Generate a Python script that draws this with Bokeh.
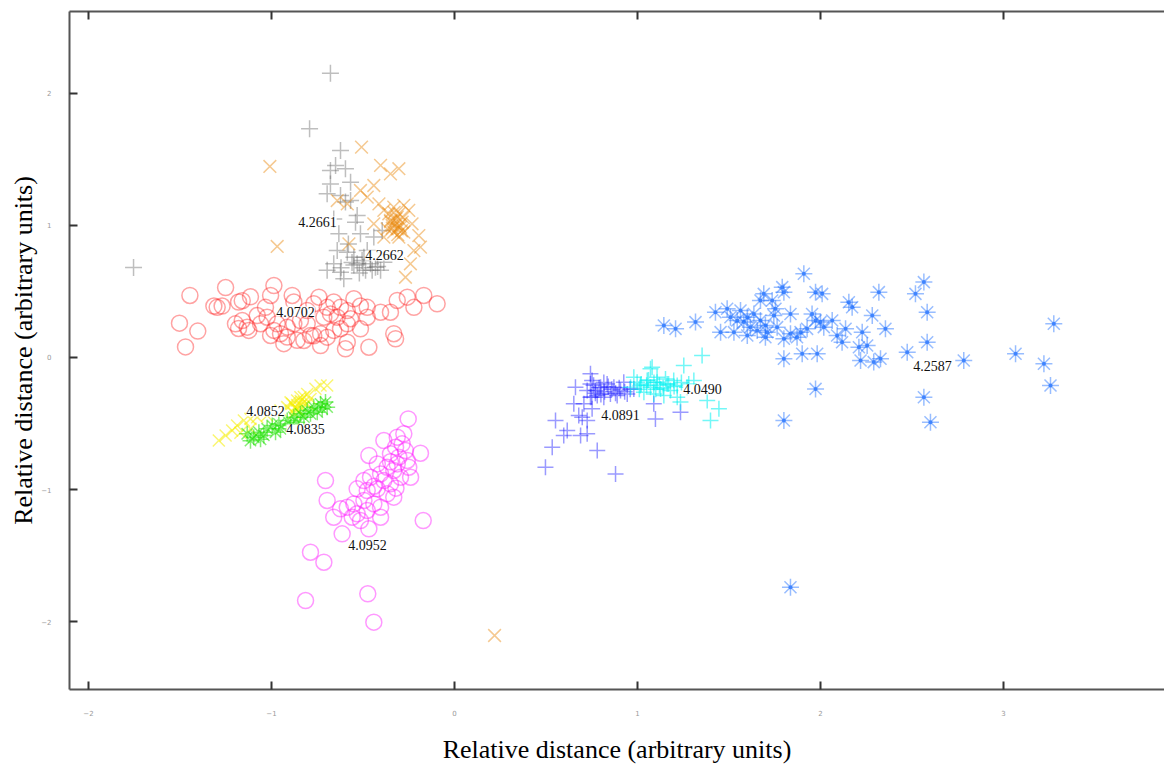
from bokeh.plotting import figure
from bokeh.models import (ColumnDataSource, LabelSet, LinearAxis, Range1d, FixedTicker,
                          CustomJSTickFormatter)
from bokeh.embed import file_html
from bokeh.resources import INLINE

# ---------------- data ----------------
x_ticks = [-2, -1, 0, 1, 2, 3]
y_ticks = [-2, -1, 0, 1, 2]
x_title = "Relative distance (arbitrary units)"
y_title = "Relative distance (arbitrary units)"

red_x = [-1.446, -1.503, -1.403, -1.47, -1.251, -1.297, -1.27, -1.16, -1.115, -1.18, -1.197, -1.18, -1.133,
         -1.124, -1.005, -0.987, -0.887, -0.878, -1.024, -0.987, -0.951, -0.914, -0.933, -0.86, -0.769, -0.805,
         -0.741, -0.696, -0.66, -0.641, -0.586, -0.568, -0.55, -0.514, -0.477, -0.514, -0.586, -0.596, -0.468,
         -0.404, -0.35, -0.332, -0.322, -0.313, -0.258, -0.222, -0.168, -0.095, -0.787, -0.823, -0.732, -0.696,
         -0.66, -0.623, -0.714, -0.678, -0.842, -0.878, -0.914, -0.969, -1.005, -1.06, -1.033, -1.078, -1.16,
         -1.315, -0.769, -0.805, -0.586, -0.623, -0.732, -0.477]
red_y = [0.47, 0.26, 0.20, 0.08, 0.53, 0.38, 0.39, 0.43, 0.46, 0.42, 0.255, 0.22, 0.23,
         0.205, 0.47, 0.545, 0.47, 0.42, 0.305, 0.205, 0.18, 0.155, 0.105, 0.13, 0.165, 0.255,
         0.457, 0.38, 0.42, 0.305, 0.255, 0.293, 0.445, 0.39, 0.38, 0.217, 0.116, 0.066, 0.078,
         0.343, 0.343, 0.18, 0.142, 0.432, 0.457, 0.38, 0.47, 0.407, 0.167, 0.129, 0.18, 0.154,
         0.205, 0.217, 0.305, 0.33, 0.28, 0.255, 0.23, 0.255, 0.167, 0.255, 0.38, 0.318, 0.28,
         0.39, 0.407, 0.356, 0.356, 0.38, 0.09, 0.305]

grey_x = [-0.678, -0.792, -0.623, -0.65, -0.596, -0.678, -0.568, -0.696, -0.623, -0.596, -0.532, -0.541,
          -0.514, -0.632, -0.641, -0.586, -0.55, -0.495, -0.459, -0.532, -0.696, -0.623, -0.66, -0.404,
          -0.386, -0.432, -0.477, -0.441, -0.486, -0.395, -0.678, -1.754, -0.605, -0.66, -0.568,
          -0.55, -0.505, -0.46, -0.58, -0.42, -0.50, -0.45, -0.56, -0.62, -0.52]
grey_y = [2.154, 1.733, 1.568, 1.455, 1.43, 1.417, 1.328, 1.24, 1.227, 1.177, 1.076, 1.025,
          0.937, 0.937, 0.81, 0.798, 0.76, 0.76, 0.71, 0.71, 0.66, 0.646, 0.71, 0.66,
          0.722, 0.684, 0.81, 0.912, 0.66, 0.962, 1.315, 0.682, 0.596, 1.05, 1.19,
          0.70, 0.735, 0.745, 0.86, 0.69, 0.68, 0.66, 0.72, 0.68, 0.64]

orange_x = [-0.508, -1.009, -0.969, -0.404, -0.304, -0.35, -0.441, -0.514, -0.586, -0.641, -0.477, -0.413,
            -0.386, -0.332, -0.277, -0.25, -0.313, -0.35, -0.322, -0.295, -0.368, -0.332, -0.277, -0.304,
            -0.232, -0.195, -0.186, -0.222, -0.241, -0.268, -0.577, -0.386, -0.359, -0.304, -0.341, -0.313,
            -0.286, -0.441, 0.219, -0.32, -0.30, -0.34, -0.31, -0.28, -0.33, -0.29, -0.35]
orange_y = [1.593, 1.447, 0.841, 1.455, 1.43, 1.391, 1.303, 1.265, 1.164, 1.189, 1.215, 1.164,
            1.114, 1.139, 1.152, 1.114, 1.063, 1.038, 1.013, 0.987, 0.975, 0.949, 0.949, 0.912,
            1.013, 0.924, 0.836, 0.81, 0.71, 0.608, 0.861, 0.912, 1.089, 1.089, 1.0, 0.975,
            1.025, 1.013, -2.106, 1.05, 1.0, 0.98, 0.93, 1.06, 1.1, 0.96, 1.03]

yellow_x = [-1.288, -1.251, -1.215, -1.188, -1.151, -1.115, -1.078, -1.024, -0.951, -0.914, -0.887, -0.86,
            -0.842, -0.805, -0.76, -0.732, -0.696, -0.869, -0.842, -0.823, -0.851, -0.878, -0.805, -0.896,
            -0.787, -1.115, -1.17, -0.823, -0.86, -0.84, -0.87]
yellow_y = [-0.629, -0.591, -0.553, -0.515, -0.477, -0.465, -0.452, -0.439, -0.402, -0.376, -0.351, -0.326,
            -0.301, -0.276, -0.237, -0.212, -0.212, -0.389, -0.364, -0.338, -0.40, -0.42, -0.35, -0.34,
            -0.314, -0.54, -0.57, -0.30, -0.36, -0.33, -0.38]

green_x = [-1.133, -1.097, -1.069, -1.024, -0.996, -0.96, -0.914, -0.878, -0.842, -0.805, -0.769, -0.732,
           -0.705, -0.696, -1.042, -1.06, -1.115, -0.951, -0.896, -0.823, -0.787, -0.75, -0.723, -0.978, -0.86]
green_y = [-0.578, -0.604, -0.566, -0.54, -0.515, -0.503, -0.477, -0.452, -0.427, -0.402, -0.376, -0.351,
           -0.338, -0.376, -0.59, -0.62, -0.63, -0.54, -0.515, -0.452, -0.427, -0.414, -0.389, -0.566, -0.49]

magenta_x = [-0.253, -0.186, -0.705, -0.696, -0.66, -0.614, -0.787, -0.714, -0.814, -0.474, -0.441, -0.171,
             -0.24, -0.386, -0.313, -0.277, -0.322, -0.35, -0.304, -0.258, -0.468, -0.422, -0.368, -0.332,
             -0.404, -0.459, -0.495, -0.386, -0.35, -0.532, -0.477, -0.422, -0.368, -0.332, -0.495, -0.55,
             -0.441, -0.404, -0.586, -0.532, -0.477, -0.404, -0.468, -0.623, -0.559, -0.514, -0.295, -0.313,
             -0.286, -0.268, -0.25, -0.35, -0.44, -0.32]
magenta_y = [-0.465, -0.725, -0.932, -1.083, -1.21, -1.336, -1.475, -1.551, -1.841, -1.79, -2.005, -1.235,
             -0.907, -0.629, -0.604, -0.578, -0.679, -0.73, -0.755, -0.78, -0.742, -0.806, -0.831, -0.856,
             -0.882, -0.907, -0.932, -0.932, -0.957, -0.995, -1.008, -0.995, -1.033, -1.058, -1.083, -1.109,
             -1.109, -1.134, -1.134, -1.184, -1.159, -1.21, -1.298, -1.146, -1.21, -1.235, -0.907, -0.806,
             -0.654, -0.705, -0.831, -0.79, -0.975, -0.99]

blue_x = [0.497, 0.534, 0.552, 0.597, 0.616, 0.689, 0.725, 0.698, 0.679, 0.652, 0.661, 0.743, 0.743, 0.77,
          0.798, 0.834, 0.871, 0.907, 0.78, 0.816, 0.852, 0.889, 0.944, 0.743, 0.725, 0.78, 0.88, 1.089,
          1.098, 1.235, 0.752, 0.816, 0.752, 0.98, 0.925, 0.707, 0.725,
          0.76, 0.79, 0.82, 0.86, 0.88, 0.80, 0.77, 0.84, 0.90, 0.75, 0.93, 0.96]
blue_y = [-0.831, -0.679, -0.477, -0.591, -0.553, -0.591, -0.578, -0.452, -0.439, -0.351, -0.225, -0.124,
          -0.2, -0.25, -0.225, -0.2, -0.225, -0.25, -0.288, -0.301, -0.276, -0.288, -0.276, -0.301, -0.25,
          -0.705, -0.882, -0.351, -0.465, -0.414, -0.174, -0.19, -0.389, -0.238, -0.187, -0.351, -0.477,
          -0.21, -0.23, -0.26, -0.24, -0.27, -0.28, -0.27, -0.22, -0.23, -0.30, -0.26, -0.24]

cyan_x = [1.353, 1.253, 1.08, 0.98, 1.053, 1.107, 1.162, 1.198, 1.126, 1.18, 1.071, 1.016, 0.962, 1.035,
          1.089, 1.144, 1.217, 1.308, 1.381, 1.445, 1.399, 1.107, 0.998, 1.217, 1.271, 1.235, 1.153, 1.071,
          1.02, 1.05, 1.09, 1.12, 1.14, 1.17, 1.20, 1.24, 1.10, 1.06, 1.28, 1.01]
cyan_y = [0.015, -0.06, -0.073, -0.149, -0.174, -0.187, -0.2, -0.174, -0.238, -0.25, -0.225, -0.212, -0.225,
          -0.263, -0.276, -0.288, -0.301, -0.174, -0.326, -0.389, -0.477, -0.149, -0.187, -0.212, -0.225,
          -0.338, -0.162, -0.086,
          -0.20, -0.21, -0.19, -0.21, -0.23, -0.20, -0.22, -0.19, -0.24, -0.17, -0.20, -0.24]

azure_x = [1.909, 1.791, 1.8, 1.973, 2.009, 2.319, 2.565, 2.519, 2.583, 2.155, 2.173, 2.283, 2.355, 2.228,
           2.137, 2.091, 2.118, 2.21, 2.255, 2.219, 2.291, 2.328, 2.474, 2.583, 2.783, 3.066, 3.221, 3.257,
           3.275, 2.565, 2.601, 1.973, 1.8, 1.836, 1.8, 1.9, 1.982, 1.144, 1.208, 1.317, 1.426, 1.49, 1.454,
           1.545, 1.581, 1.6, 1.563, 1.636, 1.672, 1.699, 1.709, 1.672, 1.736, 1.754, 1.745, 1.763, 1.836,
           1.8, 1.836, 1.891, 1.927, 1.872, 1.954, 1.973, 2.0, 2.018, 2.064, 1.6, 1.699, 1.527, 1.617, 1.654,
           1.69, 1.508]
azure_y = [0.634, 0.533, 0.495, 0.495, 0.482, 0.495, 0.571, 0.482, 0.343, 0.419, 0.381, 0.318, 0.217, 0.192,
           0.217, 0.167, 0.116, 0.078, 0.091, -0.023, -0.035, -0.01, 0.04, 0.116, -0.023, 0.028, -0.048,
           -0.212, 0.255, -0.301, -0.49, -0.238, -0.477, -1.74, -0.01, 0.028, 0.028, 0.242, 0.217, 0.268,
           0.343, 0.369, 0.192, 0.28, 0.268, 0.305, 0.356, 0.33, 0.28, 0.242, 0.192, 0.432, 0.432, 0.369,
           0.318, 0.23, 0.33, 0.142, 0.179, 0.192, 0.217, 0.154, 0.33, 0.28, 0.268, 0.23, 0.28, 0.167, 0.154,
           0.192, 0.23, 0.205, 0.482, 0.305]

cluster_labels = ["4.2661", "4.2662", "4.0702", "4.0852", "4.0835", "4.0952", "4.0891", "4.0490", "4.2587"]
label_x = [-0.749, -0.383, -0.869, -1.033, -0.814, -0.475, 0.907, 1.355, 2.612]
label_y = [1.03, 0.773, 0.348, -0.409, -0.545, -1.417, -0.432, -0.242, -0.061]

# ---------------- figure ----------------
p = figure(width=1164, height=767, output_backend="svg", toolbar_location=None,
           x_range=Range1d(-2.104, 3.880), y_range=Range1d(-2.515, 2.621),
           min_border_left=69, min_border_right=0, min_border_top=11, min_border_bottom=78,
           background_fill_color="white", border_fill_color="white")
p.outline_line_color = None
p.grid.visible = False

def style_axis(ax, ticks):
    ax.ticker = FixedTicker(ticks=ticks)
    ax.axis_line_color = "#555555"
    ax.axis_line_width = 2
    ax.major_tick_line_color = "#333333"
    ax.major_tick_line_width = 2
    ax.major_tick_in = 8
    ax.major_tick_out = 0
    ax.minor_tick_line_color = None
    ax.major_label_text_color = "#9a9a9a"
    ax.major_label_text_font = "DejaVu Sans"
    ax.major_label_text_font_size = "7px"

style_axis(p.xaxis[0], x_ticks)
style_axis(p.yaxis[0], y_ticks)
p.xaxis[0].major_label_standoff = 20
p.yaxis[0].major_label_standoff = 18

for ax, title in ((p.xaxis[0], x_title), (p.yaxis[0], y_title)):
    ax.axis_label = title
    ax.axis_label_text_font = "Liberation Serif"
    ax.axis_label_text_font_style = "normal"
    ax.axis_label_text_font_size = "26px"
    ax.axis_label_text_color = "#000000"
p.xaxis[0].axis_label_standoff = 16
p.yaxis[0].axis_label_standoff = 0

# top frame edge with inward ticks, no labels
top_axis = LinearAxis(formatter=CustomJSTickFormatter(code="return ''"))
style_axis(top_axis, x_ticks)
top_axis.major_label_standoff = 0
p.add_layout(top_axis, "above")

def add_series(xs, ys, marker, color, alpha, size, width=1.5):
    src = ColumnDataSource(dict(x=xs, y=ys))
    p.scatter("x", "y", source=src, marker=marker, size=size, fill_color=None,
              line_color=color, line_alpha=alpha, line_width=width)
    return src

add_series(red_x, red_y, "circle", "#ff1a1a", 0.4, 16)
add_series(grey_x, grey_y, "cross", "#6e6e6e", 0.45, 17)
add_series(orange_x, orange_y, "x", "#e8870c", 0.45, 18)
add_series(yellow_x, yellow_y, "x", "#f5ee00", 0.55, 17)
add_series(green_x, green_y, "asterisk", "#1ee000", 0.55, 16)
add_series(magenta_x, magenta_y, "circle", "#ff1aff", 0.45, 16)
add_series(blue_x, blue_y, "cross", "#2020ff", 0.45, 16)
add_series(cyan_x, cyan_y, "cross", "#00f0f0", 0.55, 16)
az_src = add_series(azure_x, azure_y, "asterisk", "#1a6cff", 0.45, 17)
# the bright centre of each asterisk
p.scatter("x", "y", source=az_src, marker="circle", size=4, fill_color="#1a6cff",
          fill_alpha=0.7, line_color=None)

lab_src = ColumnDataSource(dict(x=label_x, y=label_y, t=cluster_labels))
p.add_layout(LabelSet(x="x", y="y", text="t", source=lab_src, text_align="center",
                      text_baseline="middle", text_font="Liberation Serif", text_font_size="14px",
                      text_color="#111111", background_fill_color="white", background_fill_alpha=1.0))

open("out.html", "w").write(file_html(p, INLINE))
